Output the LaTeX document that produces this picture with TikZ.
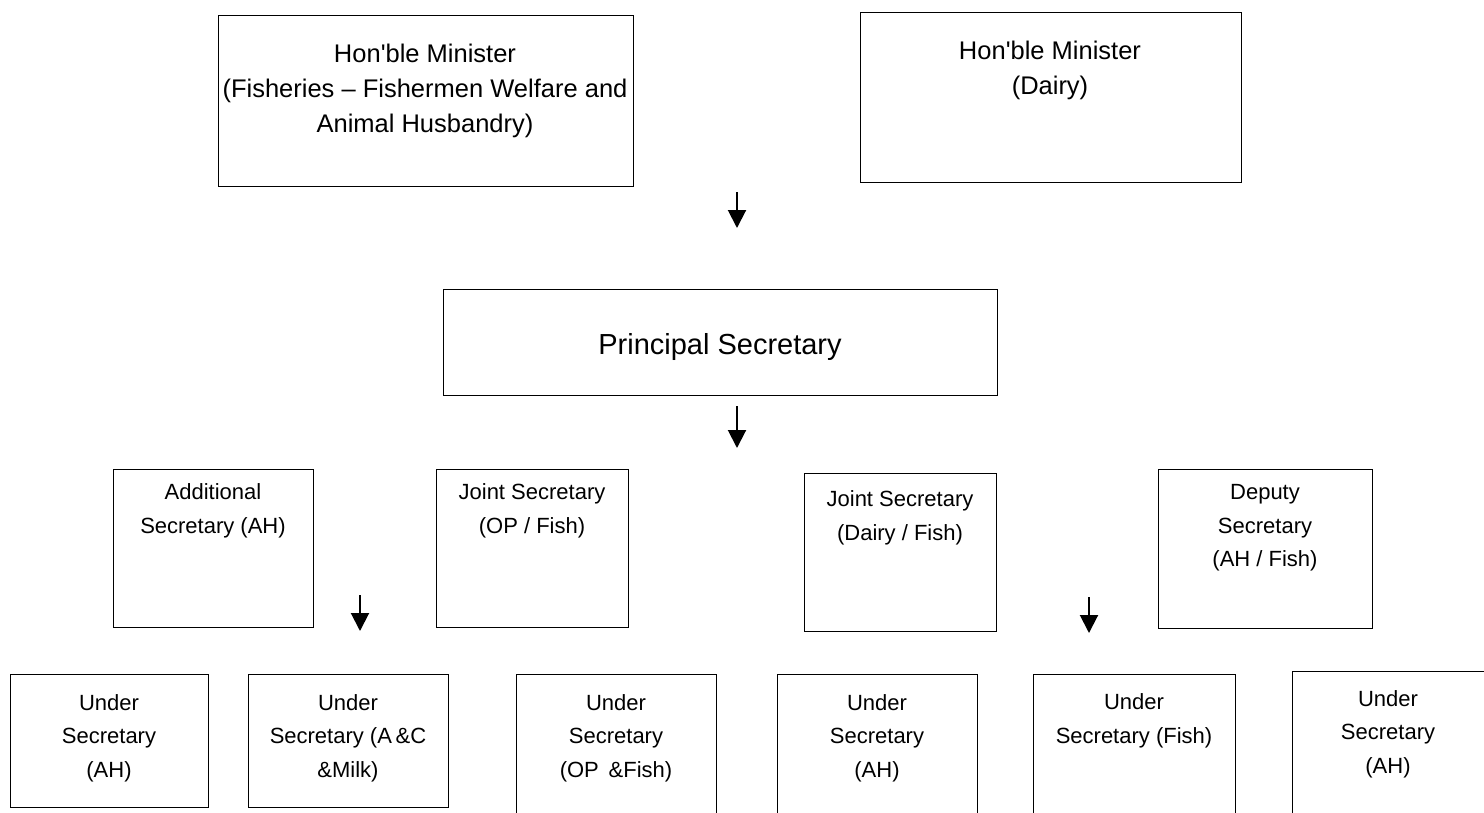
\documentclass[tikz,border=0pt]{standalone}
\usepackage{fontspec}
\setmainfont{Liberation Sans}
\usetikzlibrary{arrows.meta}
\tikzset{
  post/.style={draw, line width=1.2pt, inner sep=0pt, anchor=north west},
  lbl/.style={align=center, inner sep=0pt, font=\fontsize{22}{33.5}\selectfont},
  toplbl/.style={lbl, font=\fontsize{25.5}{35}\selectfont},
  arr/.style={-{Triangle[width=18pt,length=18pt]}, line width=2pt}
}
\begin{document}
\begin{tikzpicture}[x=1pt, y=-1pt]
			%%%%% START %%%%%
			\clip (0,0) rectangle (1484,812);
			\fill[white] (0,0) rectangle (1484,812);
			
			% ministers
			\node[post, minimum width=415pt, minimum height=171pt] (hmf) at (218,15) {};
			\node[toplbl] (hmfT) at (425,91) {Hon\textquotesingle ble Minister\\(Fisheries -- Fishermen Welfare and\\Animal Husbandry)};
			
			\node[post, minimum width=381pt, minimum height=170pt] (hmd) at (860,12) {};
			\node[toplbl] (hmdT) at (1050,70) {Hon\textquotesingle ble Minister\\(Dairy)};
			
			\coordinate (a1s) at (737,192);
			\coordinate (a1e) at (737,228);
			\draw[arr] (a1s) -- (a1e);
			
			% principal secretary
			\node[post, minimum width=554pt, minimum height=106pt] (ps) at (443,289) {};
			\node[lbl, font=\fontsize{29}{33}\selectfont] (psT) at (720,347) {Principal Secretary};
			
			\coordinate (a2s) at (737,406);
			\coordinate (a2e) at (737,448);
			\draw[arr] (a2s) -- (a2e);
			
			% secretaries
			\node[post, minimum width=200pt, minimum height=158pt] (ads) at (113,469) {};
			\node[lbl] (adsT) at (213,511) {Additional\\Secretary (AH)};
			
			\node[post, minimum width=192pt, minimum height=158pt] (jsop) at (436,469) {};
			\node[lbl] (jsopT) at (532,511) {Joint Secretary\\(OP / Fish)};
			
			\node[post, minimum width=192pt, minimum height=158pt] (jsd) at (804,473) {};
			\node[lbl] (jsdT) at (900,518) {Joint Secretary\\(Dairy / Fish)};
			
			\node[post, minimum width=214pt, minimum height=159pt] (ds) at (1158,469) {};
			\node[lbl] (dsT) at (1265,528) {Deputy\\Secretary\\(AH / Fish)};
			
			\coordinate (a3s) at (360,595);
			\coordinate (a3e) at (360,631);
			\draw[arr] (a3s) -- (a3e);
			
			\coordinate (a4s) at (1089,597);
			\coordinate (a4e) at (1089,633);
			\draw[arr] (a4s) -- (a4e);
			
			% under secretaries
			\node[post, minimum width=198pt, minimum height=133pt] (us1) at (10,674) {};
			\node[lbl] (us1T) at (109,738) {Under\\Secretary\\(AH)};
			
			\node[post, minimum width=200pt, minimum height=133pt] (us2) at (248,674) {};
			\node[lbl] (us2T) at (348,738) {Under\\Secretary (A\,\&C\\\&Milk)};
			
			\node[post, minimum width=200pt, minimum height=160pt] (us3) at (516,674) {};
			\node[lbl] (us3T) at (616,738) {Under\\Secretary\\(OP \,\&Fish)};
			
			\node[post, minimum width=200pt, minimum height=160pt] (us4) at (777,674) {};
			\node[lbl] (us4T) at (877,738) {Under\\Secretary\\(AH)};
			
			\node[post, minimum width=202pt, minimum height=160pt] (us5) at (1033,674) {};
			\node[lbl] (us5T) at (1134,721) {Under\\Secretary (Fish)};
			
			\node[post, minimum width=220pt, minimum height=160pt] (us6) at (1292,671) {};
			\node[lbl] (us6T) at (1388,734) {Under\\Secretary\\(AH)};
			
			%%%%% END %%%%%
\end{tikzpicture}
\end{document}
